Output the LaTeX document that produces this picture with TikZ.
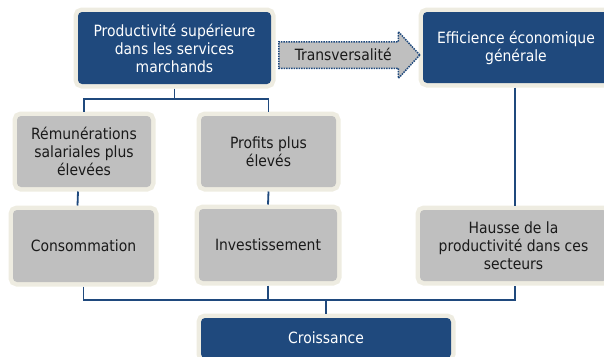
\documentclass[tikz,border=0pt]{standalone}
\usepackage{fontspec}
\setmainfont{DejaVu Sans Condensed}
\usetikzlibrary{positioning,shapes.arrows,calc}
\definecolor{boxblue} {HTML}{1F497D}
\definecolor{boxgray} {HTML}{BFBFBF}
\definecolor{rimcream}{HTML}{EEECE1}
\definecolor{ink}     {HTML}{1A1A1A}

\begin{document}
\begin{tikzpicture}[x=1pt,y=-1pt,font=\fontsize{15.5}{18}\selectfont,
    box/.style={rounded corners=4pt,preaction={draw=rimcream,line width=9pt},
      align=center,inner sep=0pt,outer sep=4.5pt},
    bluebox/.style={box,fill=boxblue,text=white},
    graybox/.style={box,fill=boxgray,text=ink},
    link/.style={draw=boxblue,line width=1.8pt}]
  \clip (0,0) rectangle (604,356);
  % top row
  \node[bluebox,minimum width=193pt,minimum height=72pt] (prod) at (174.5,48)
    {Productivité supérieure\\dans les services\\marchands};
  \node[bluebox,minimum width=186pt,minimum height=71pt] (eff) at (516,47.5)
    {Efficience économique\\générale};
  \node[single arrow,draw=boxblue,line width=1.5pt,dash pattern=on 1.5pt off 1pt,
    fill=boxgray,text=ink,minimum height=141pt,minimum width=46pt,
    single arrow head extend=10pt,single arrow tip angle=95,
    text height=12pt,text depth=2pt,inner ysep=5.5pt,inner xsep=4pt,
    anchor=tail] (transv) at (278,55) {Transversalité};
  % middle rows
  \node[graybox,minimum width=134pt,minimum height=71pt] (rem) at (84,151.5)
    {Rémunérations\\salariales plus\\élevées};
  \node[graybox,minimum width=135pt,minimum height=71pt] (prof) at (268.5,151.5)
    {Profits plus\\élevés};
  \node[graybox,minimum width=141pt,minimum height=72pt] (cons) at (83.5,246)
    {Consommation};
  \node[graybox,minimum width=138pt,minimum height=72pt] (inv) at (268,245)
    {Investissement};
  \node[graybox,minimum width=187pt,minimum height=71pt] (hau) at (513.5,245.5)
    {Hausse de la\\productivité dans ces\\secteurs};
  % bottom
  \node[bluebox,minimum width=250pt,minimum height=40pt] (crois) at (326,338)
    {Croissance};
  % connectors
  \coordinate (forkA) at (174.5,99);
  \coordinate (forkB) at (326,300);
  \coordinate (dropC) at ([xshift=-1pt]eff.south);
  \draw[link] (prod.south) -- (forkA) -| (rem.north);
  \draw[link] (forkA) -| (prof.north);
  \draw[link] ([xshift=-6pt]rem.south) -- ([xshift=-6pt]cons.north);
  \draw[link] (prof.south) -- (inv.north);
  \draw[link] (dropC) -- (dropC |- hau.north);
  \draw[link] (cons.south) |- (forkB) -| (dropC |- hau.south);
  \draw[link] (inv.south) -- (inv.south |- forkB);
  \draw[link] (forkB) -- (crois.north);
\end{tikzpicture}
\end{document}
